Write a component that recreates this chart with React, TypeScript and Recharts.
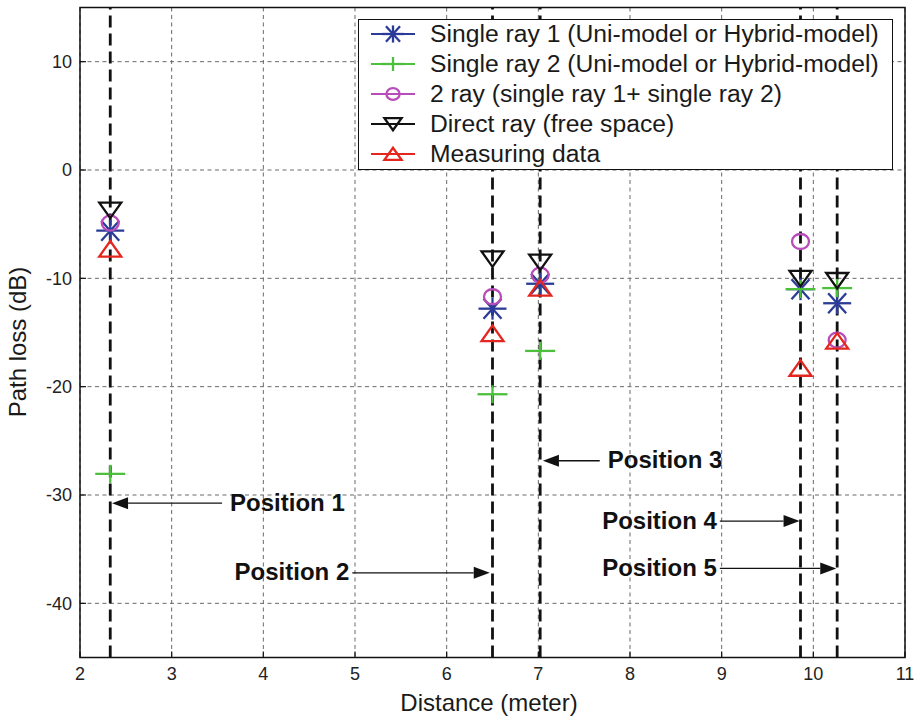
import React from 'react';
import {
  ScatterChart,
  Scatter,
  XAxis,
  YAxis,
  CartesianGrid,
  ReferenceLine,
  ReferenceArea,
  Legend,
} from 'recharts';

// ---- data ----
const distances = [2.33, 6.5, 7.02, 9.86, 10.26];
const singleRay1 = [-5.6, -12.8, -10.5, -11.0, -12.3];
const singleRay2 = [-28.05, -20.7, -16.7, -11.0, -10.9];
const twoRay = [-4.9, -11.7, -9.7, -6.6, -15.7];
const directRay = [-3.7, -8.2, -8.5, -10.0, -10.2];
const measuring = [-7.3, -15.1, -10.9, -18.3, -15.8];

const xTicks = [2, 3, 4, 5, 6, 7, 8, 9, 10, 11];
const yTicks = [-40, -30, -20, -10, 0, 10];

const positionLabels = ['Position 1', 'Position 2', 'Position 3', 'Position 4', 'Position 5'];
const arrowY = [-30.75, -37.18, -26.84, -32.41, -36.78];
const arrowTip = [2.35, 6.47, 7.05, 9.85, 10.25];
const arrowTail = [3.55, 4.97, 7.67, 8.98, 8.98];

const seriesNames = [
  'Single ray 1 (Uni-model or Hybrid-model)',
  'Single ray 2 (Uni-model or Hybrid-model)',
  '2 ray (single ray 1+ single ray 2)',
  'Direct ray (free space)',
  'Measuring data',
];
const seriesColors = ['#2a3b98', '#4cbf3c', '#b84cb8', '#111111', '#e4261f'];
const seriesKinds = ['star', 'plus', 'circle', 'down', 'up'];
const seriesValues = [singleRay1, singleRay2, twoRay, directRay, measuring];

const FONT = '"Liberation Sans", Arial, Helvetica, sans-serif';

function Marker({ kind, cx, cy, color, s = 1 }: any) {
  const sw = 2.3;
  if (kind === 'star') {
    return (
      <g stroke={color} strokeWidth={sw} fill="none">
        <line x1={cx - 14 * s} y1={cy} x2={cx + 14 * s} y2={cy} />
        <line x1={cx} y1={cy - 11 * s} x2={cx} y2={cy + 11 * s} />
        <line x1={cx - 9 * s} y1={cy - 10 * s} x2={cx + 9 * s} y2={cy + 10 * s} />
        <line x1={cx - 9 * s} y1={cy + 10 * s} x2={cx + 9 * s} y2={cy - 10 * s} />
      </g>
    );
  }
  if (kind === 'plus') {
    return (
      <g stroke={color} strokeWidth={sw} fill="none">
        <line x1={cx - 15 * s} y1={cy} x2={cx + 15 * s} y2={cy} />
        <line x1={cx} y1={cy - 9 * s} x2={cx} y2={cy + 9 * s} />
      </g>
    );
  }
  if (kind === 'circle') {
    return <ellipse cx={cx} cy={cy} rx={8.5 * s} ry={7.5 * s} stroke={color} strokeWidth={sw} fill="none" />;
  }
  if (kind === 'down') {
    return (
      <polygon
        points={`${cx - 11 * s},${cy - 7.5 * s} ${cx + 11 * s},${cy - 7.5 * s} ${cx},${cy + 8 * s}`}
        stroke={color}
        strokeWidth={sw}
        fill="none"
        strokeLinejoin="miter"
      />
    );
  }
  return (
    <polygon
      points={`${cx - 11 * s},${cy + 7.5 * s} ${cx + 11 * s},${cy + 7.5 * s} ${cx},${cy - 8 * s}`}
      stroke={color}
      strokeWidth={sw}
      fill="none"
      strokeLinejoin="miter"
    />
  );
}

const makeArrowShape = (label: string) => (p: any) => {
  const { x1, y1, x2, y2 } = p;
  if (x1 == null || x2 == null) return <g />;
  const dir = x2 > x1 ? 1 : -1;
  const headLen = 16;
  const headHalf = 6;
  const baseX = x2 - dir * headLen;
  return (
    <g>
      <line x1={x1} y1={y1} x2={baseX} y2={y2} stroke="#111" strokeWidth={1.3} />
      <polygon points={`${x2},${y2} ${baseX},${y2 - headHalf} ${baseX},${y2 + headHalf}`} fill="#111" />
      <text
        x={dir > 0 ? x1 - 3 : x1 + 8}
        y={y1 - 1}
        dy="0.355em"
        textAnchor={dir > 0 ? 'end' : 'start'}
        fontWeight="bold"
        fontSize={24}
        fontFamily={FONT}
        fill="#111"
      >
        {label}
      </text>
    </g>
  );
};

const XTick = (p: any) => {
  const { x, y, payload } = p;
  const axisY = y - 9.5;
  return (
    <g>
      <line x1={x} y1={axisY} x2={x} y2={axisY - 6} stroke="#111" strokeWidth={1.2} />
      <text x={x} y={y} dy="0.71em" textAnchor="middle" fontSize={18} fontFamily={FONT} fill="#222">
        {payload.value}
      </text>
    </g>
  );
};

const YTick = (p: any) => {
  const { x, y, payload } = p;
  const axisX = x + 8;
  return (
    <g>
      <line x1={axisX} y1={y} x2={axisX + 6} y2={y} stroke="#111" strokeWidth={1.2} />
      <text x={x} y={y} dy="0.355em" textAnchor="end" fontSize={18} fontFamily={FONT} fill="#222">
        {payload.value}
      </text>
    </g>
  );
};

const TopTick = (p: any) => {
  const { x, y } = p;
  return <line x1={x} y1={y} x2={x} y2={y + 6} stroke="#111" strokeWidth={1.2} />;
};

const RightTick = (p: any) => {
  const { x, y } = p;
  return <line x1={x} y1={y} x2={x - 6} y2={y} stroke="#111" strokeWidth={1.2} />;
};

const LegendBox = () => (
  <div
    style={{
      background: '#fff',
      border: '1.3px solid #111',
      boxSizing: 'border-box',
      width: 535,
      height: 151,
      fontFamily: FONT,
      fontSize: 24.7,
      color: '#1a1a1a',
    }}
  >
    {seriesNames.map((name, i) => (
      <div key={name} style={{ display: 'flex', alignItems: 'center', height: 30, marginTop: i === 0 ? -1 : 0 }}>
        <svg width={46} height={30} style={{ marginLeft: 12, flex: 'none' }}>
          <line x1={0} y1={15} x2={44} y2={15} stroke={seriesColors[i]} strokeWidth={2} />
          <Marker kind={seriesKinds[i]} cx={22} cy={15} color={seriesColors[i]} s={0.78} />
        </svg>
        <span style={{ marginLeft: 13, whiteSpace: 'nowrap', lineHeight: '30px' }}>{name}</span>
      </div>
    ))}
  </div>
);

export default function App() {
  const seriesData = seriesValues.map((vals) => vals.map((v, i) => ({ x: distances[i], y: v })));
  return (
    <div style={{ position: 'absolute', left: 0, top: 0, background: '#fff' }}>
      <ScatterChart width={917} height={717} margin={{ top: 7.5, right: 12, left: 0, bottom: 0 }}>
        <CartesianGrid stroke="#6a6a6a" strokeDasharray="4 3.5" strokeWidth={1} />
        <XAxis
          type="number"
          dataKey="x"
          domain={[2, 11]}
          ticks={xTicks}
          allowDataOverflow
          height={59.5}
          axisLine={false}
          tickLine={false}
          tickSize={0}
          tickMargin={9.5}
          tick={<XTick />}
          interval={0}
        />
        <XAxis
          xAxisId="top"
          orientation="top"
          type="number"
          domain={[2, 11]}
          ticks={xTicks}
          allowDataOverflow
          height={0}
          axisLine={false}
          tickLine={false}
          tickSize={0}
          tickMargin={0}
          tick={<TopTick />}
          interval={0}
        />
        <YAxis
          type="number"
          dataKey="y"
          domain={[-45, 15]}
          ticks={yTicks}
          allowDataOverflow
          width={80}
          axisLine={false}
          tickLine={false}
          tickSize={0}
          tickMargin={8}
          tick={<YTick />}
          interval={0}
        />
        <YAxis
          yAxisId="right"
          orientation="right"
          type="number"
          domain={[-45, 15]}
          ticks={yTicks}
          allowDataOverflow
          width={0}
          axisLine={false}
          tickLine={false}
          tickSize={0}
          tickMargin={0}
          tick={<RightTick />}
          interval={0}
        />
        {distances.map((d) => (
          <ReferenceLine key={`pl-${d}`} x={d} stroke="#111" strokeWidth={2.8} strokeDasharray="12 6" />
        ))}
        {positionLabels.map((lab, i) => (
          <ReferenceLine
            key={lab}
            segment={[
              { x: arrowTail[i], y: arrowY[i] },
              { x: arrowTip[i], y: arrowY[i] },
            ]}
            shape={makeArrowShape(lab)}
          />
        ))}
        {seriesNames.map((name, i) => (
          <Scatter
            key={name}
            name={name}
            data={seriesData[i]}
            isAnimationActive={false}
            fill={seriesColors[i]}
            shape={(p: any) => <Marker kind={seriesKinds[i]} cx={p.cx} cy={p.cy} color={seriesColors[i]} />}
          />
        ))}
        <ReferenceArea x1={2} x2={11} y1={-45} y2={15} fill="none" stroke="#111" strokeWidth={1.5} />
        <Legend
          layout="vertical"
          align="center"
          verticalAlign="middle"
          content={() => <LegendBox />}
          wrapperStyle={{ top: 19, left: 358, width: 535, height: 151, margin: 0 }}
        />
        <text
          x={17}
          y={342}
          transform="rotate(-90 17 342)"
          textAnchor="middle"
          dominantBaseline="central"
          fontSize={24}
          fontFamily={FONT}
          fill="#1a1a1a"
        >
          Path loss (dB)
        </text>
        <text x={489} y={711} textAnchor="middle" fontSize={24} fontFamily={FONT} fill="#1a1a1a">
          Distance (meter)
        </text>
      </ScatterChart>
    </div>
  );
}
